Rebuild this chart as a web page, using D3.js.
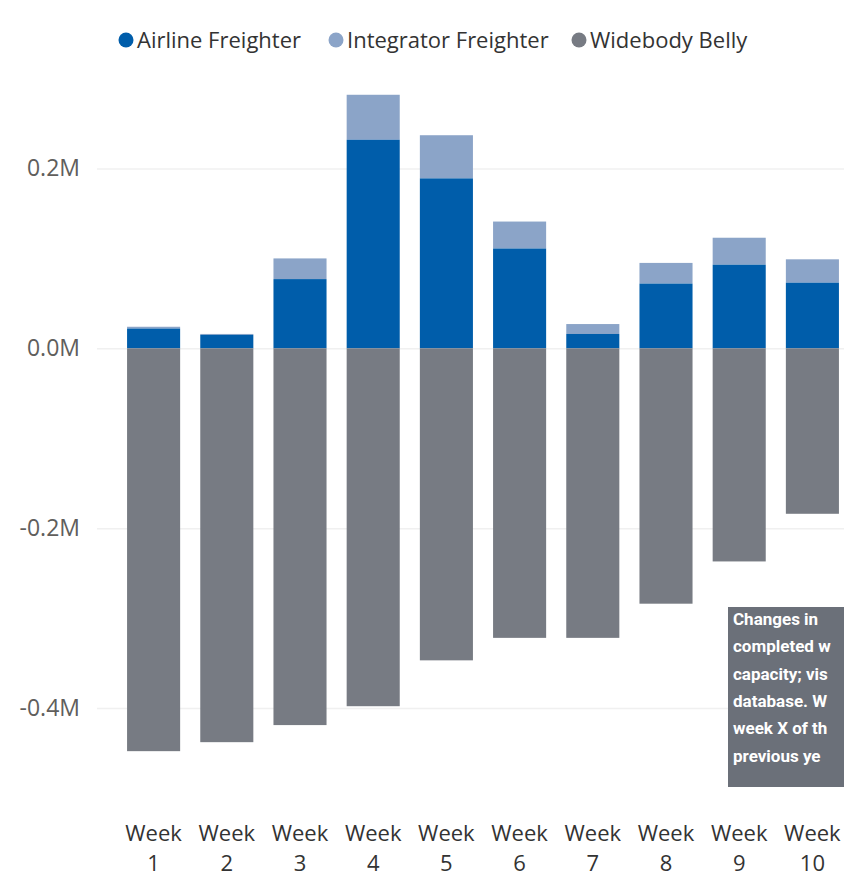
<!DOCTYPE html>
<html>
<head>
<meta charset="utf-8">
<script src="https://cdn.jsdelivr.net/npm/d3@7"></script>
<style>
  body { margin: 0; background: #fff; }
  text { font-family: "Segoe UI", "Open Sans", "Noto Sans", sans-serif; }
  .tick text { fill: #605e5c; }
  .note text { font-family: Roboto, "Noto Sans", sans-serif; font-weight: bold; }
</style>
</head>
<body>
<div id="chart"></div>
<script>
var width = 844;
var height = 879;

// data (millions)
var weeks = ["Week 1", "Week 2", "Week 3", "Week 4", "Week 5", "Week 6", "Week 7", "Week 8", "Week 9", "Week 10"];
var airline = [0.022, 0.015, 0.077, 0.232, 0.189, 0.111, 0.016, 0.072, 0.093, 0.073];
var integrator = [0.002, 0.001, 0.023, 0.050, 0.048, 0.030, 0.011, 0.023, 0.030, 0.026];
var widebody = [-0.448, -0.438, -0.419, -0.398, -0.347, -0.322, -0.322, -0.284, -0.237, -0.184];
var yTicks = [-0.4, -0.2, 0, 0.2];

var seriesNames = ["Airline Freighter", "Integrator Freighter", "Widebody Belly"];
var colors = ["#005daa", "#8ba4c8", "#777b83"];
// note box is cut by the right edge in the original, only this much shows
var noteLines = ["Changes in", "completed w", "capacity; vis", "database. W", "week X of th", "previous ye"];

var svg = d3.select("#chart")
  .append("svg")
  .attr("width", width)
  .attr("height", height);

// scales
var xScale = d3.scaleBand()
  .domain(weeks)
  .range([117, 849])
  .paddingInner(0.275)
  .paddingOuter(0.1375);

var yScale = d3.scaleLinear()
  .domain([-0.4, 0.2])
  .range([708, 168.5]);

// gridlines + y labels
var yAxis = d3.axisLeft(yScale)
  .tickValues(yTicks)
  .tickSize(-(width - 97))
  .tickPadding(17)
  .tickFormat(function(d) { return d3.format(".1f")(d).replace("−", "-") + "M"; });

svg.append("g")
  .attr("transform", "translate(97,0)")
  .call(yAxis)
  .call(function(g) { g.select(".domain").remove(); })
  .call(function(g) {
    g.selectAll(".tick line").attr("stroke", "#f0f0f0").attr("stroke-width", 1.5);
    g.selectAll(".tick text").attr("font-size", 23);
  });

// stacked bars
var rows = weeks.map(function(w, i) {
  return {week: w, a: airline[i], b: integrator[i], c: widebody[i]};
});

var g = svg.selectAll(".week")
  .data(rows)
  .enter().append("g");

g.append("rect")
  .attr("x", function(d) { return xScale(d.week); })
  .attr("width", xScale.bandwidth())
  .attr("y", function(d) { return yScale(d.a + d.b); })
  .attr("height", function(d) { return yScale(d.a) - yScale(d.a + d.b); })
  .attr("fill", colors[1]);

g.append("rect")
  .attr("x", function(d) { return xScale(d.week); })
  .attr("width", xScale.bandwidth())
  .attr("y", function(d) { return yScale(d.a); })
  .attr("height", function(d) { return yScale(0) - yScale(d.a); })
  .attr("fill", colors[0]);

g.append("rect")
  .attr("x", function(d) { return xScale(d.week); })
  .attr("width", xScale.bandwidth())
  .attr("y", yScale(0))
  .attr("height", function(d) { return yScale(d.c) - yScale(0); })
  .attr("fill", colors[2]);

// x labels (two lines)
var xl = svg.selectAll(".xlab")
  .data(weeks)
  .enter().append("text")
  .attr("text-anchor", "middle")
  .attr("font-size", 22)
  .attr("fill", "#333");

xl.append("tspan")
  .attr("x", function(d) { return xScale(d) + xScale.bandwidth() / 2; })
  .attr("y", 841)
  .text(function(d) { return d.split(" ")[0]; });

xl.append("tspan")
  .attr("x", function(d) { return xScale(d) + xScale.bandwidth() / 2; })
  .attr("y", 871)
  .text(function(d) { return d.split(" ")[1]; });

// legend
var legendX = [126, 336, 579];
var legend = svg.selectAll(".legend")
  .data(seriesNames)
  .enter().append("g");

legend.append("circle")
  .attr("cx", function(d, i) { return legendX[i]; })
  .attr("cy", 40)
  .attr("r", 7.5)
  .attr("fill", function(d, i) { return colors[i]; });

legend.append("text")
  .attr("x", function(d, i) { return legendX[i] + 11; })
  .attr("y", 48)
  .attr("font-size", 22)
  .attr("fill", "#333")
  .text(function(d) { return d; });

// overlapping note box (runs past the right edge)
var note = svg.append("g").attr("class", "note");
note.append("rect")
  .attr("x", 728)
  .attr("y", 607)
  .attr("width", 140)
  .attr("height", 180)
  .attr("fill", "#6b7079");

note.selectAll("text")
  .data(noteLines)
  .enter().append("text")
  .attr("x", 733)
  .attr("y", function(d, i) { return 625 + i * 27.3; })
  .attr("font-size", 17)
  .attr("fill", "#fff")
  .text(function(d) { return d; });
</script>
</body>
</html>
